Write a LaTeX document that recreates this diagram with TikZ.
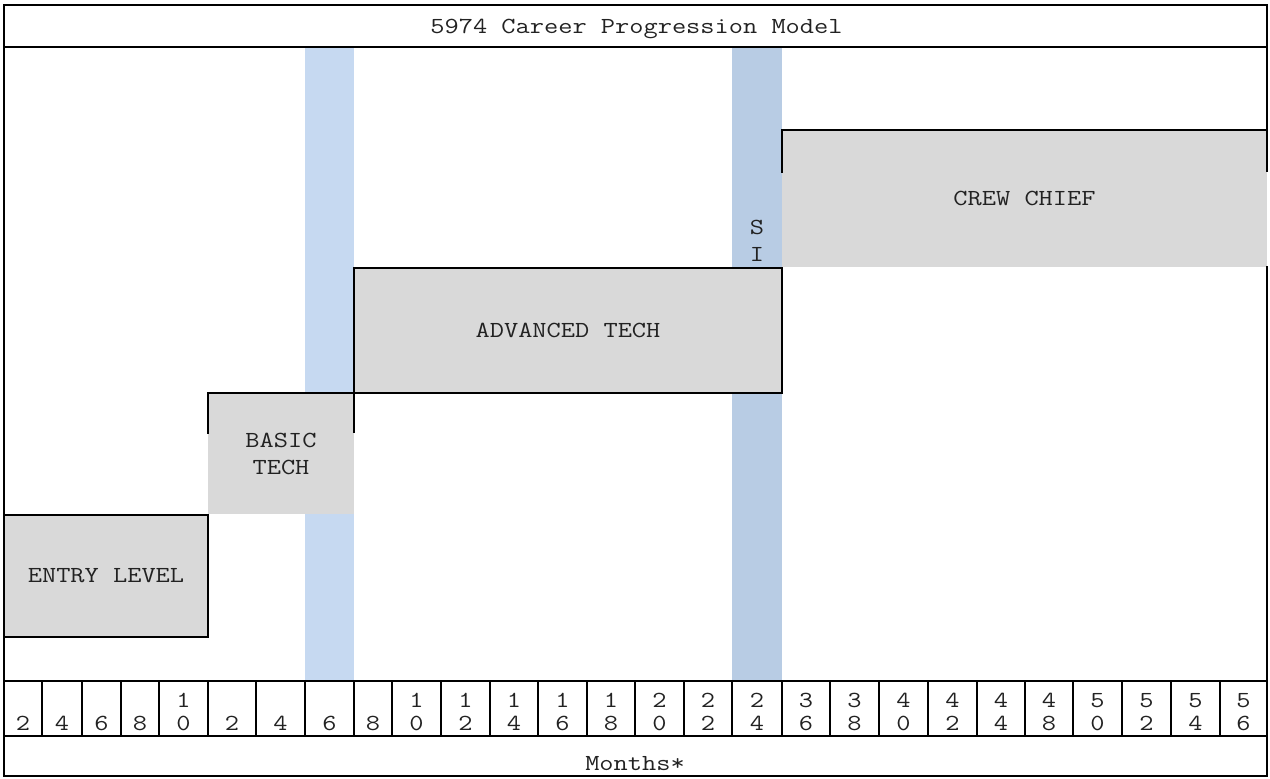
\documentclass[tikz,border=0pt]{standalone}
\usepackage{fontspec}
\definecolor{boxgray}{HTML}{D9D9D9}
\definecolor{bandlight}{HTML}{C6D9F1}
\definecolor{banddark}{HTML}{B8CCE4}
\definecolor{inkgray}{HTML}{222222}
\newcommand{\typefont}{\fontsize{23}{27}\selectfont\ttfamily}
% typewriter text, widened to the pitch of the layout
\newcommand{\wide}[1]{\scalebox{1.2}[1]{#1}}
\begin{document}
\begin{tikzpicture}[x=1pt,y=-1pt,
  rule/.style={line width=2pt, line cap=rect},
  area/.style={rectangle, inner sep=0pt, outer sep=0pt},
  label/.style={inner sep=0pt, text=inkgray, font=\typefont, align=center}]
\useasboundingbox (0,0) rectangle (1270,779);

% highlight bands behind the stages
\node[area, fill=bandlight, minimum width=49pt, minimum height=634pt] (bandA) at (329.5,364) {};
\node[area, fill=banddark, minimum width=50pt, minimum height=634pt] (bandB) at (757,364) {};

% stage cells
\node[area, fill=boxgray, minimum width=204pt, minimum height=122pt] (entry) at (106,576) {};
\node[area, fill=boxgray, minimum width=146pt, minimum height=121pt] (basic) at (281,453.5) {};
\node[area, fill=boxgray, minimum width=428pt, minimum height=125pt] (adv) at (568,330.5) {};
\node[area, fill=boxgray, minimum width=485pt, minimum height=137pt] (crew) at (1024.5,198.5) {};

% stage names
\node[label] (entryT) at (entry) {\wide{ENTRY LEVEL}};
\node[label] (basicT) at (basic) {\wide{BASIC}\\\wide{TECH}};
\node[label] (advT) at (adv) {\wide{ADVANCED TECH}};
\node[label] (crewT) at (crew) {\wide{CREW CHIEF}};
\node[label] (si) at (757,241) {\wide{S}\\\wide{I}};

% title and footer
\node[label, anchor=base] (title) at (636.5,33) {\wide{5974 Career Progression Model}};
\node[label, anchor=base] (months) at (635,770) {\wide{Months*}};

% outer frame and row rules
\coordinate (tl) at (4,5);
\coordinate (tr) at (1267,5);
\coordinate (bl) at (4,776);
\coordinate (br) at (1267,776);
\draw[rule] (bl) -- (tl) -- (tr) -- (1267,171);
\draw[rule] (1267,267) -- (br) -- (bl);
\draw[rule] (4,47) -- (1267,47);
\draw[rule] (4,681) -- (1267,681);
\draw[rule] (4,736) -- (1267,736);

% stage cell borders
\draw[rule] (entry.north west) -- (entry.north east) -- (entry.south east) -- (entry.south west);
\draw[rule] (208,433) -- (basic.north west) -- (adv.south east) -- (adv.north east);
\draw[rule] (354,432) -- (adv.south west) -- (adv.north west) -- (adv.north east);
\draw[rule] (782,172) -- (crew.north west) -- (crew.north east);

% month scale
\foreach \l/\r/\hi/\lo [count=\i] in {
  4/42//2, 42/82//4, 82/121//6, 121/159//8, 159/208/1/0,
  208/256//2, 256/305//4, 305/354//6, 354/392//8, 392/441/1/0,
  441/490/1/2, 490/538/1/4, 538/587/1/6, 587/635/1/8, 635/684/2/0,
  684/732/2/2, 732/782/2/4, 782/830/3/6, 830/879/3/8, 879/928/4/0,
  928/977/4/2, 977/1025/4/4, 1025/1073/4/8, 1073/1122/5/0, 1122/1171/5/2,
  1171/1220/5/4, 1220/1267/5/6} {
  \draw[rule] (\r,681) -- (\r,736);
  \node[label, anchor=base] (m\i) at ({(\l+\r)/2},730) {\wide{\lo}};
  \node[label, anchor=base] (mh\i) at ({(\l+\r)/2},707) {\wide{\hi}};
}
\end{tikzpicture}
\end{document}
